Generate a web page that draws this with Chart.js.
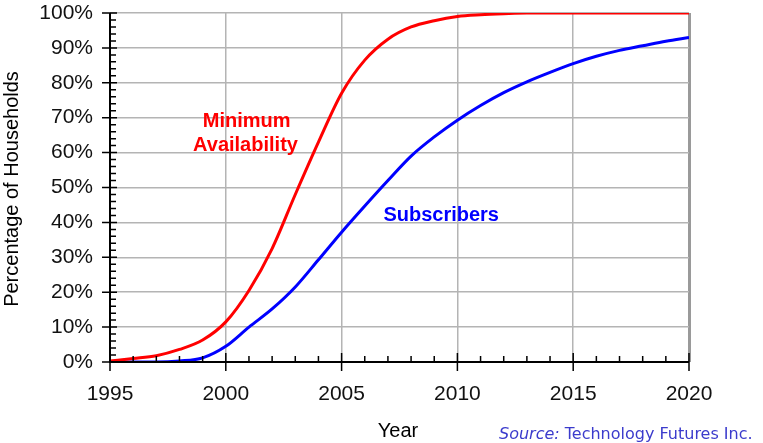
<!DOCTYPE html>
<html>
<head>
<meta charset="utf-8">
<script src="https://cdn.jsdelivr.net/npm/chart.js@4"></script>
<style>
html,body{margin:0;padding:0;background:#fff;}
#wrap{width:763px;height:443px;}
</style>
</head>
<body>
<div id="wrap"><canvas id="c" width="763" height="443"></canvas></div>
<script>
const years = [1995,1996,1997,1998,1999,2000,2001,2002,2003,2004,2005,2006,2007,2008,2009,2010,2011,2012,2013,2014,2015,2016,2017,2018,2019,2020];
const availability = [0.3,1,1.8,3.6,6.3,11.5,20.5,32.5,48,63,77,86.5,92.5,96,97.8,99,99.5,99.8,100,100,100,100,100,100,100,100];
const subscribers = [0,0,0,0.3,1.2,4.5,10,15.2,21.5,29.3,37.2,44.7,52,59,64.5,69.3,73.5,77.2,80.3,83,85.5,87.6,89.3,90.6,91.9,93];
const xTicks = [1995,2000,2005,2010,2015,2020];
const yTicks = [0,10,20,30,40,50,60,70,80,90,100];
const xTitle = 'Year';
const yTitle = 'Percentage of Households';
const labelAvail = ['Minimum','Availability'];
const labelSubs = 'Subscribers';

const pts = (arr) => years.map((y,i)=>({x:y,y:arr[i]}));

const decor = {
  id:'decor',
  afterDatasetsDraw(chart){
    const ctx = chart.ctx, xs = chart.scales.x, ys = chart.scales.y;
    const x0 = xs.getPixelForValue(1995), y0 = ys.getPixelForValue(0);
    ctx.save();
    ctx.strokeStyle = '#000';
    ctx.lineWidth = 2;
    ctx.beginPath();
    ctx.moveTo(x0, ys.getPixelForValue(100)); ctx.lineTo(x0, y0);
    ctx.lineTo(xs.getPixelForValue(2020), y0);
    ctx.stroke();
    ctx.lineWidth = 1.5;
    ctx.beginPath();
    for (let v=0; v<=100; v+=2){
      const py = ys.getPixelForValue(v);
      if (v%10===0){ ctx.moveTo(x0-8, py); ctx.lineTo(x0+7, py); }
      else { ctx.moveTo(x0, py); ctx.lineTo(x0+6, py); }
    }
    for (let yr=1995; yr<=2020; yr++){
      const px = xs.getPixelForValue(yr);
      if (yr%5===0){ ctx.moveTo(px, y0-9); ctx.lineTo(px, y0+9); }
      else { ctx.moveTo(px, y0-6); ctx.lineTo(px, y0); }
    }
    ctx.stroke();
    // annotations
    ctx.textAlign = 'center';
    ctx.textBaseline = 'alphabetic';
    ctx.font = 'bold 20px "Liberation Sans", Arial, sans-serif';
    ctx.fillStyle = '#ff0000';
    ctx.fillText(labelAvail[0], xs.getPixelForValue(2000.9), ys.getPixelForValue(67.4));
    ctx.fillText(labelAvail[1], xs.getPixelForValue(2000.85), ys.getPixelForValue(60.4));
    ctx.fillStyle = '#0000ff';
    ctx.fillText(labelSubs, xs.getPixelForValue(2009.3), ys.getPixelForValue(40.4));
    // axis titles
    ctx.fillStyle = '#000';
    ctx.font = '20px "Liberation Sans", Arial, sans-serif';
    ctx.textBaseline = 'middle';
    ctx.fillText(xTitle, 398, 431);
    ctx.save();
    ctx.translate(12, 189);
    ctx.rotate(-Math.PI/2);
    ctx.fillText(yTitle, 0, 0);
    ctx.restore();
    // source
    ctx.textAlign = 'left';
    ctx.fillStyle = '#3b3bcc';
    ctx.font = 'italic 16px "DejaVu Sans", Verdana, sans-serif';
    ctx.fillText('Source:', 499, 435);
    const w = ctx.measureText('Source: ').width;
    ctx.font = '16px "DejaVu Sans", Verdana, sans-serif';
    ctx.fillText('Technology Futures Inc.', 499 + w, 435);
    ctx.restore();
  }
};

new Chart(document.getElementById('c'), {
  type:'line',
  data:{
    datasets:[
      {label:'Minimum Availability', data:pts(availability), borderColor:'#ff0000', borderWidth:3, pointRadius:0, cubicInterpolationMode:'monotone', fill:false},
      {label:'Subscribers', data:pts(subscribers), borderColor:'#0000ff', borderWidth:3, pointRadius:0, cubicInterpolationMode:'monotone', fill:false}
    ]
  },
  options:{
    responsive:false,
    animation:false,
    events:[],
    layout:{padding:{left:0, top:0, right:74, bottom:0}},
    plugins:{legend:{display:false}, tooltip:{enabled:false}},
    scales:{
      x:{
        type:'linear', min:1995, max:2020,
        afterBuildTicks(s){ s.ticks = xTicks.map(v=>({value:v})); },
        afterFit(s){ s.height = 81; },
        border:{display:false},
        grid:{drawTicks:false, color:(c)=> c.tick && c.tick.value===2020 ? '#9a9a9a' : '#b4b4b4', lineWidth:(c)=> c.tick && c.tick.value===2020 ? 3 : 1.5},
        ticks:{padding:20, color:'#111', font:{family:'"Liberation Sans", Arial, sans-serif', size:21}, callback:(v)=>String(v), maxRotation:0}
      },
      y:{
        min:0, max:100,
        afterBuildTicks(s){ s.ticks = yTicks.map(v=>({value:v})); },
        afterFit(s){ s.width = 110; s.paddingTop = 13; },
        border:{display:false},
        grid:{drawTicks:false, color:'#b4b4b4', lineWidth:1.5},
        ticks:{padding:17, color:'#111', font:{family:'"Liberation Sans", Arial, sans-serif', size:21}, callback:(v)=>v+'%'}
      }
    }
  },
  plugins:[decor]
});
</script>
</body>
</html>
